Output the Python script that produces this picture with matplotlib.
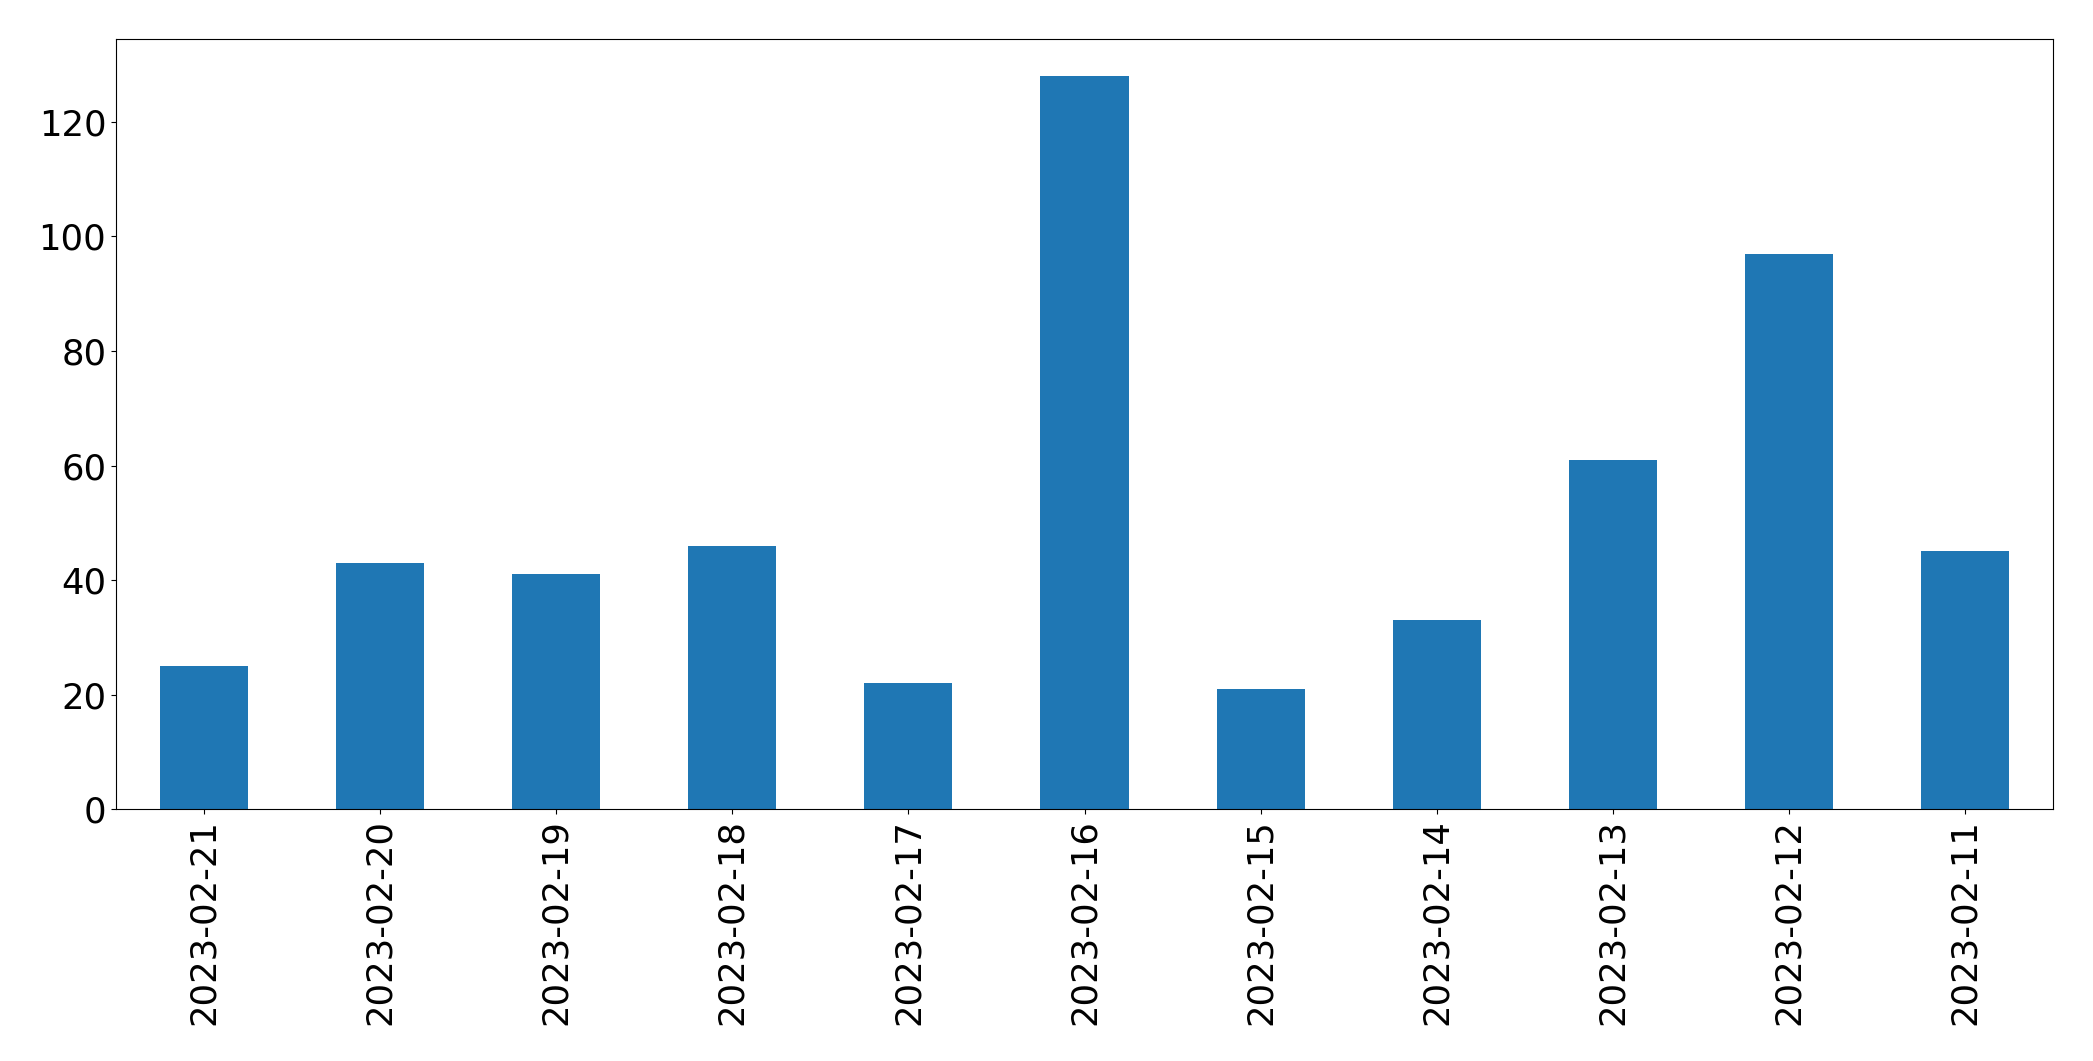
import matplotlib
matplotlib.use("Agg")
import matplotlib.pyplot as plt

dates = ["2023-02-21", "2023-02-20", "2023-02-19", "2023-02-18", "2023-02-17",
         "2023-02-16", "2023-02-15", "2023-02-14", "2023-02-13", "2023-02-12",
         "2023-02-11"]
counts = [25, 43, 41, 46, 22, 128, 21, 33, 61, 97, 45]

W, H = 2093, 1061
fig = plt.figure(figsize=(W / 100, H / 100), dpi=100)
ax = fig.add_axes([116 / W, (H - 809.3) / H, (2053 - 116) / W, (809.3 - 39.3) / H])
x = list(range(len(dates)))
ax.bar(x, counts, width=0.5, color="#1f77b4")
ax.set_xlim(-0.5, len(dates) - 0.5)
ax.set_ylim(0, max(counts) * 1.05)
ax.set_xticks(x)
ax.set_xticklabels(dates, rotation=90)
ax.tick_params(axis="both", labelsize=25.5)
fig.savefig("out.png", dpi=100)
